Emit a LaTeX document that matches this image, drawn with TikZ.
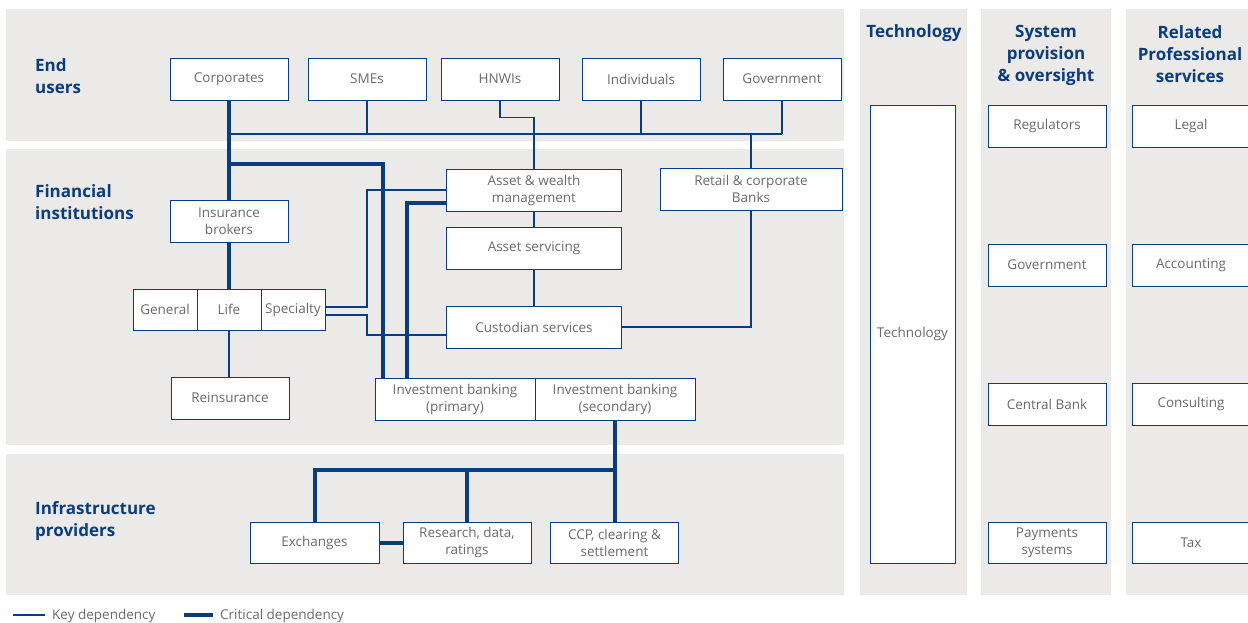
\documentclass[tikz,border=0pt]{standalone}
\usepackage{fontspec}
\setmainfont{Open Sans}
\usetikzlibrary{backgrounds,calc}
\definecolor{navy}{HTML}{0A3D7C}
\definecolor{panel}{HTML}{ECEAE8}
\definecolor{txt}{HTML}{6A6A6A}
\tikzset{
  box/.style={draw=navy, line width=1pt, fill=white, inner sep=0pt, align=center,
    text=txt, font=\fontsize{13.5}{17}\selectfont, minimum width=118pt, minimum height=42pt},
  key/.style={draw=navy, line width=1.2pt},
  crit/.style={draw=navy, line width=4pt, line cap=rect},
  head/.style={text=navy, font=\fontsize{17}{22}\selectfont\bfseries, inner sep=0pt},
  legtxt/.style={text=txt, font=\fontsize{13.5}{17}\selectfont, inner sep=0pt, anchor=west},
  pnl/.style={fill=panel, draw=none}
}
\begin{document}
\begin{tikzpicture}[x=1pt,y=-1pt]
\useasboundingbox (0,0) rectangle (1248,622);
\clip (0,0) rectangle (1248,622);
% headings
\node[head, anchor=west, align=left] (hEnd) at (35,76) {End\\users};
\node[head, anchor=west, align=left] (hFin) at (35,202) {Financial\\institutions};
\node[head, anchor=west, align=left] (hInf) at (35,521) {Infrastructure\\providers};
\node[head] (hTech) at (914,33) {Technology};
\node[head, anchor=north, align=center] (hSys) at (1046,25) {System\\provision\\\& oversight};
\node[head, anchor=north, align=center] (hRel) at (1190,25) {Related\\Professional\\services};
% end users
\node[box] (corp) at (229,79) {Corporates};
\node[box] (sme) at (367,79) {SMEs};
\node[box] (hnwi) at (500,79) {HNWIs};
\node[box] (indiv) at (641,79) {Individuals};
\node[box] (gov) at (782,79) {Government};
% financial institutions
\node[box, minimum width=175pt] (awm) at (534,190) {Asset \& wealth\\management};
\node[box, minimum width=182pt] (rcb) at (751,189) {Retail \& corporate\\Banks};
\node[box, minimum width=175pt] (aserv) at (534,248) {Asset servicing};
\node[box, minimum width=175pt] (cust) at (534,327) {Custodian services};
\node[box] (ins) at (229,221) {Insurance\\brokers};
\node[box, minimum width=64pt, minimum height=41pt] (gen) at (165,309.5) {General};
\node[box, minimum width=64pt, minimum height=41pt] (life) at (229,309.5) {Life};
\node[box, minimum width=64pt, minimum height=41pt] (spec) at (293,309.5) {Specialty};
\node[box] (reins) at (230,398) {Reinsurance};
\node[box, minimum width=160pt] (ibp) at (455,399) {Investment banking\\(primary)};
\node[box, minimum width=160pt] (ibs) at (615,399) {Investment banking\\(secondary)};
% infrastructure
\node[box, minimum width=129pt, minimum height=41pt] (exch) at (314.5,542.5) {Exchanges};
\node[box, minimum width=128pt, minimum height=41pt] (res) at (467,542.5) {Research, data,\\ratings};
\node[box, minimum width=128pt, minimum height=41pt] (ccp) at (614.5,542.5) {CCP, clearing \&\\settlement};
% right columns
\node[box, minimum width=85pt, minimum height=458pt] (tech) at (912.5,334) {Technology};
\node[box] (reg) at (1047,126) {Regulators};
\node[box] (gov2) at (1047,265) {Government};
\node[box] (cb) at (1047,404) {Central Bank};
\node[box, minimum height=41pt] (pay) at (1047,542.5) {Payments\\systems};
\node[box] (legal) at (1191,126) {Legal};
\node[box] (acc) at (1191,265) {Accounting};
\node[box] (cons) at (1191,404) {Consulting};
\node[box, minimum height=41pt] (tax) at (1191,542.5) {Tax};
% legend
\coordinate (lk1) at (13,615);
\coordinate (lk2) at (45,615);
\coordinate (lc1) at (184,615);
\coordinate (lc2) at (213,615);
\node[legtxt] (lkt) at (52,616) {Key dependency};
\node[legtxt] (lct) at (220,616) {Critical dependency};
\begin{pgfonlayer}{background}
  % panels
  \fill[pnl] (6,9) rectangle (844,141);
  \fill[pnl] (6,149) rectangle (844,445);
  \fill[pnl] (6,454) rectangle (844,595);
  \fill[pnl] (860,9) rectangle (967,595);
  \fill[pnl] (981,9) rectangle (1111,595);
  \fill[pnl] (1126,9) rectangle (1248,595);
  % coordinates
  \coordinate (busL) at (229,134);
  \coordinate (busR) at (782,134);
  \coordinate (busB) at (751,134);
  \coordinate (tJ) at (229,164);
  \coordinate (j) at (615,470);
  % key dependencies
  \draw[key] (busL) -- (busR);
  \draw[key] (sme.south) -- (sme.south |- busL);
  \draw[key] (indiv.south) -- (indiv.south |- busL);
  \draw[key] (gov.south) -- (busR);
  \draw[key] (hnwi.south) -- ++(0,17) -| (awm.north);
  \draw[key] (busB) -- (rcb.north);
  \draw[key] (awm.south) -- (aserv.north);
  \draw[key] (aserv.south) -- (cust.north);
  \draw[key] (cust.east) -| (rcb.south);
  \draw[key] ([yshift=2.5pt]spec.east) -- (367,307) |- (awm.west);
  \draw[key] ([yshift=-5.5pt]spec.east) -- (367,315) |- ([yshift=-8pt]cust.west);
  \draw[key] (life.south) -- (life.south |- reins.north);
  % critical dependencies
  \draw[crit] (corp.south) -- (ins.north);
  \draw[crit] (ins.south) -- (life.north);
  \draw[crit] (tJ) -| ([xshift=-72pt]ibp.north);
  \draw[crit] ([yshift=-13pt]awm.west) -| ([xshift=-48pt]ibp.north);
  \draw[crit] (ibs.south) -- (j);
  \draw[crit] (exch.north) |- (j);
  \draw[crit] (res.north) -- (res.north |- j);
  \draw[crit] (ccp.north) -- (ccp.north |- j);
  \draw[crit] (exch.east) -- (res.west);
  % legend lines
  \draw[key] (lk1) -- (lk2);
  \draw[navy, line width=4pt] (lc1) -- (lc2);
\end{pgfonlayer}
\end{tikzpicture}
\end{document}
